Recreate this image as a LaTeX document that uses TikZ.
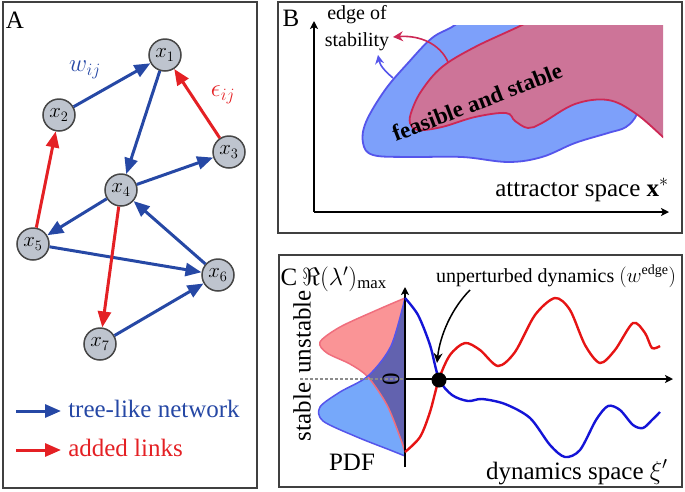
\documentclass[tikz,border=0pt]{standalone}
\usepackage{amsmath,amssymb}
\usepackage{fontspec}
\setmainfont{Liberation Serif}
\usetikzlibrary{arrows.meta}
\definecolor{netblue}{RGB}{38,72,165}
\definecolor{netred}{RGB}{228,32,36}
\definecolor{ndfill}{RGB}{190,196,206}
\definecolor{ndedge}{RGB}{70,70,70}
\definecolor{bfill}{RGB}{125,160,250}
\definecolor{bline}{RGB}{85,85,235}
\definecolor{rfill}{RGB}{205,116,152}
\definecolor{rline}{RGB}{205,40,85}
\definecolor{pdfred}{RGB}{250,148,150}
\definecolor{pdfredline}{RGB}{240,110,125}
\definecolor{pdfblue}{RGB}{118,168,250}
\definecolor{pdfblueline}{RGB}{85,85,235}
\definecolor{pdfdark}{RGB}{98,98,175}
\definecolor{cblue}{RGB}{20,20,215}
\definecolor{cred}{RGB}{230,20,20}
\begin{document}
\begin{tikzpicture}[x=1pt,y=-1pt,
  nd/.style={circle,draw=ndedge,fill=ndfill,line width=1.5pt,minimum size=32pt,inner sep=0pt,font=\fontsize{21}{24}\selectfont},
  be/.style={draw=netblue,line width=3pt,-{Triangle[length=16pt,width=13pt]}},
  re/.style={draw=netred,line width=3pt,-{Triangle[length=16pt,width=13pt]}},
  panel/.style={draw=black!75,line width=1.3pt},
  axis/.style={draw=black,line width=2.2pt,-{Stealth[length=8pt,width=8pt,inset=2pt]}},
  big/.style={font=\rmfamily\fontsize{20}{22}\selectfont,scale=1.25},
  mid/.style={font=\rmfamily\fontsize{20}{22}\selectfont},
  txt/.style={inner sep=0pt}]
\useasboundingbox (0,0) rectangle (685,491);
% panel boxes
\draw[panel] (3,2) rectangle (257,488);
\draw[panel] (278,2) rectangle (682,233);
\draw[panel] (279,255) rectangle (682,487);
% ---------- Panel A ----------
\node[txt,big] (labA) at (15,20) {A};
\node[nd] (x1) at (165,55) {$x_1$};
\node[nd] (x2) at (59,115) {$x_2$};
\node[nd] (x3) at (229,152) {$x_3$};
\node[nd] (x4) at (121,190) {$x_4$};
\node[nd] (x5) at (33,244) {$x_5$};
\node[nd] (x6) at (218,275) {$x_6$};
\node[nd] (x7) at (100,344) {$x_7$};
\draw[be] (x2) -- (x1);
\draw[be] (x1) -- (x4);
\draw[be] (x4) -- (x3);
\draw[be] (x4) -- (x5);
\draw[be] (x5) -- (x6);
\draw[be] (x6) -- (x4);
\draw[be] (x7) -- (x6);
\draw[re] (x3) -- (x1);
\draw[re] (x5) -- (x2);
\draw[re] (x4) -- (x7);
\node[txt,text=netblue,font=\fontsize{24}{26}\selectfont] (wl) at (85,70) {$w_{ij}$};
\node[txt,text=netred,font=\fontsize{24}{26}\selectfont] (el) at (223,95) {$\epsilon_{ij}$};
\coordinate (lb1) at (16,411);
\coordinate (lb2) at (61,411);
\coordinate (lr1) at (16,450);
\coordinate (lr2) at (61,450);
\draw[be] (lb1) -- (lb2);
\draw[re] (lr1) -- (lr2);
\node[txt,big,text=netblue,anchor=west] (leg1) at (68,409) {tree-like network};
\node[txt,big,text=netred,anchor=west] (leg2) at (68,448) {added links};
% ---------- Panel B ----------
\node[txt,big] (labB) at (291,18) {B};
\begin{scope}
\clip (280,25) rectangle (663,230);
\fill[bfill] plot[smooth,tension=0.6] coordinates {(478,5) (455,25) (432,38) (408,63) (385,90) (366,122) (363,143) (373,155) (408,157) (462,157) (508,162) (542,157) (575,143) (608,133) (626,127) (637,114) (640,95) (625,50) (600,5)} -- cycle;
\draw[bline,line width=1.8pt] plot[smooth,tension=0.6] coordinates {(478,5) (455,25) (432,38) (408,63) (385,90) (366,122) (363,143) (373,155) (408,157) (462,157) (508,162) (542,157) (575,143) (608,133) (626,127) (637,114) (640,95) (625,50) (600,5)};
\fill[rfill] plot[smooth,tension=0.6] coordinates {(560,5) (522,25) (475,47) (442,67) (422,90) (412,110) (410,123) (418,130) (442,127) (475,117) (506,113) (515,121) (528,128) (542,123) (575,104) (608,100) (635,113) (663,137) (685,158)} -- (700,160) -- (700,0) -- cycle;
\draw[rline,line width=1.8pt] plot[smooth,tension=0.6] coordinates {(560,5) (522,25) (475,47) (442,67) (422,90) (412,110) (410,123) (418,130) (442,127) (475,117) (506,113) (515,121) (528,128) (542,123) (575,104) (608,100) (635,113) (663,137) (685,158)};
\end{scope}
\coordinate (ra1) at (448,62);
\coordinate (ra2) at (393,37);
\draw[rline,line width=1.6pt,-{Stealth[length=10pt,width=10pt]}] (ra1) .. controls (440,44) and (420,35) .. (ra2);
\coordinate (ba1) at (393,78);
\coordinate (ba2) at (378,55);
\draw[bline,line width=1.6pt,-{Stealth[length=9pt,width=9pt]}] (ba1) .. controls (386,72) and (380,66) .. (ba2);
\node[txt,mid] (edge1) at (357,15) {edge of};
\node[txt,mid] (edge2) at (357,42) {stability};
\node[txt,rotate=21,font=\rmfamily\bfseries\fontsize{20}{22}\selectfont,scale=1.15] (fs) at (477,102) {feasible and stable};
\coordinate (bo) at (314,212);
\coordinate (by) at (314,21);
\coordinate (bx) at (669,212);
\draw[axis] (bo) -- (by);
\draw[axis] (bo) -- (bx);
\node[txt,big,anchor=east] (attr) at (669,190) {attractor space $\mathbf{x}^{*}$};
% ---------- Panel C ----------
\node[txt,big] (labC) at (289,277) {C};
\node[txt,font=\fontsize{24}{26}\selectfont,anchor=west] (relab) at (302,279) {$\Re(\lambda')_{\max}$};
\node[txt,mid] (unp) at (556,276) {unperturbed dynamics $(w^{\mathrm{edge}})$};
% PDFs
\fill[pdfred] plot[smooth] coordinates {(405,298) (377,310) (340,327) (320,342) (327,353) (350,364) (368,377) (387,405) (400,437) (405,452)} -- cycle;
\fill[pdfblue] plot[smooth] coordinates {(405,298) (391,346) (368,376) (340,392) (320,407) (323,421) (357,437) (390,450) (405,456)} -- cycle;
\begin{scope}
\clip plot[smooth] coordinates {(405,298) (377,310) (340,327) (320,342) (327,353) (350,364) (368,377) (387,405) (400,437) (405,452)} -- cycle;
\fill[pdfdark] plot[smooth] coordinates {(405,298) (391,346) (368,376) (340,392) (320,407) (323,421) (357,437) (390,450) (405,456)} -- cycle;
\end{scope}
\draw[pdfredline,line width=1.5pt] plot[smooth] coordinates {(405,298) (377,310) (340,327) (320,342) (327,353) (350,364) (368,377) (387,405) (400,437) (405,452)};
\draw[pdfblueline,line width=1.5pt] plot[smooth] coordinates {(405,298) (391,346) (368,376) (340,392) (320,407) (323,421) (357,437) (390,450) (405,456)};
% axes
\coordinate (co) at (405,467);
\coordinate (cy) at (405,287);
\coordinate (cl) at (405,379);
\coordinate (cx) at (673,379);
\coordinate (cd) at (300,379);
\draw[black!45,line width=2.6pt,dash pattern=on 2.6pt off 2.4pt] (cd) -- (cl);
\draw[axis] (co) -- (cy);
\draw[axis] (cl) -- (cx);
% curves
\draw[cblue,line width=2.4pt] plot[smooth] coordinates {(405,298) (418,315) (430,345) (439,379) (452,395) (468,401) (482,399) (505,404) (530,418) (550,445) (565,457) (580,450) (596,420) (608,406) (620,410) (633,425) (643,428) (652,420) (660,412)};
\draw[cred,line width=2.4pt] plot[smooth] coordinates {(405,452) (420,437) (430,412) (439,379) (450,355) (465,343) (480,350) (498,366) (515,352) (535,315) (555,298) (570,310) (585,345) (600,363) (615,350) (633,323) (645,333) (652,348) (660,346)};
\node[circle,fill=black,minimum size=15pt,inner sep=0pt] (dot) at (439,380) {};
\coordinate (ua) at (470,290);
\coordinate (ub) at (437,363);
\draw[black,line width=1.5pt,-{Stealth[length=10pt,width=9pt]}] (ua) .. controls (452,308) and (440,335) .. (ub);
\node[txt,big,rotate=90] (zero) at (391,379) {0};
\node[txt,big,rotate=90] (stab) at (302,412) {stable};
\node[txt,big,rotate=90] (unst) at (302,332) {unstable};
\node[txt,big] (pdf) at (352,462) {PDF};
\node[txt,big,anchor=east] (dyn) at (668,472) {dynamics space $\xi'$};
\end{tikzpicture}
\end{document}
